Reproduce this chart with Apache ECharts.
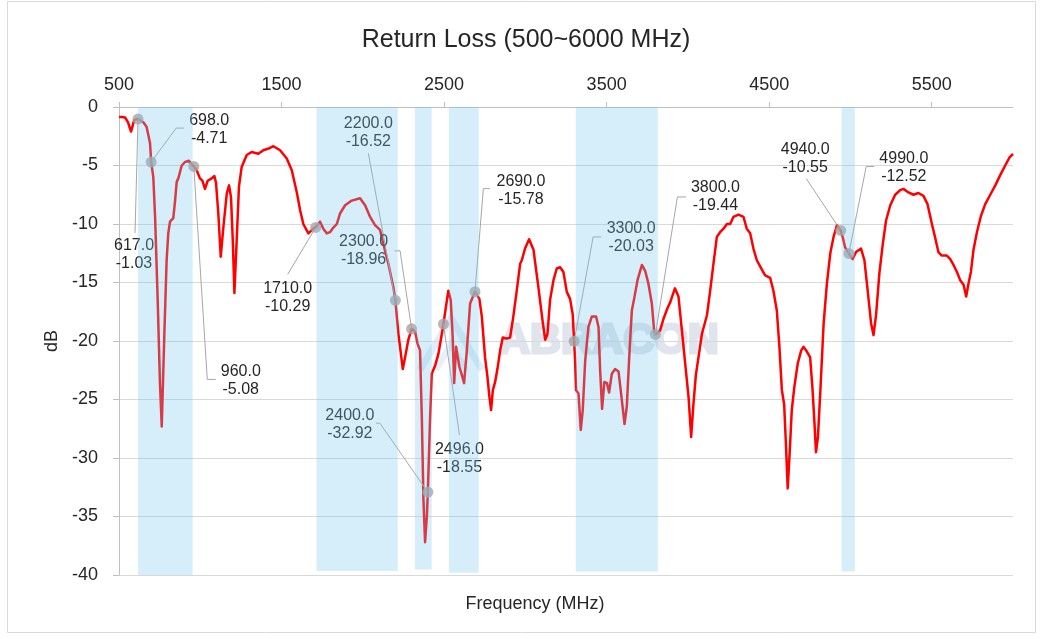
<!DOCTYPE html>
<html>
<head>
<meta charset="utf-8">
<script src="https://cdn.jsdelivr.net/npm/echarts@6/dist/echarts.min.js"></script>
<style>html,body{margin:0;padding:0;background:#fff;}#chart{width:1042px;height:639px;}</style>
</head>
<body>
<div id="chart"></div>
<script>
// ---- data ----
const freq = [500,520,537,555,574,594,617,650,670,691,698,711,722,738,752,763,779,793,803,814,834,845,855,865,886,906,931,943,960,978,998,1013,1029,1046,1070,1087,1097,1111,1126,1142,1163,1177,1189,1200,1210,1224,1238,1255,1286,1316,1357,1388,1420,1450,1491,1532,1563,1594,1614,1634,1665,1696,1710,1737,1757,1778,1798,1819,1840,1860,1891,1932,1983,2014,2045,2075,2106,2133,2157,2188,2200,2219,2246,2260,2280,2300,2322,2336,2352,2363,2373,2383,2394,2400,2414,2424,2445,2465,2480,2496,2510,2526,2541,2553,2562,2574,2582,2594,2609,2623,2640,2660,2690,2717,2732,2752,2767,2779,2789,2800,2814,2828,2845,2861,2885,2906,2926,2947,2968,2978,2998,3023,3050,3080,3105,3122,3136,3152,3173,3193,3214,3234,3255,3275,3291,3300,3306,3312,3327,3341,3353,3368,3388,3409,3435,3450,3460,3472,3486,3502,3515,3532,3552,3573,3589,3610,3624,3640,3655,3669,3690,3717,3737,3757,3778,3792,3800,3829,3850,3874,3891,3920,3942,3963,3983,4004,4020,4034,4049,4065,4086,4117,4137,4157,4178,4198,4219,4240,4260,4280,4311,4342,4362,4383,4403,4424,4451,4475,4506,4526,4547,4563,4578,4592,4602,4614,4627,4639,4655,4676,4697,4711,4732,4752,4767,4779,4788,4800,4815,4835,4855,4876,4896,4917,4940,4952,4967,4990,5013,5034,5065,5086,5106,5127,5142,5158,5178,5199,5219,5245,5275,5306,5326,5357,5388,5418,5449,5474,5501,5520,5541,5562,5593,5614,5634,5655,5675,5696,5712,5726,5741,5757,5778,5803,5829,5860,5891,5922,5952,5979,6000];
const returnLoss = [-0.85,-0.85,-0.9,-1.3,-2.1,-1.1,-1.03,-1.3,-1.7,-3.1,-4.71,-6.0,-9.4,-16.5,-23.6,-27.3,-19.4,-13.1,-10.8,-9.8,-9.5,-8.0,-6.4,-6.1,-5.0,-4.7,-4.6,-4.85,-5.08,-5.4,-6.1,-6.3,-7.0,-6.3,-6.1,-5.9,-6.5,-9.1,-12.8,-10.3,-7.4,-6.7,-7.7,-11.4,-15.9,-11.4,-6.8,-5.1,-4.1,-3.85,-4.0,-3.7,-3.55,-3.35,-3.7,-4.4,-5.4,-7.3,-8.8,-10.0,-10.8,-10.4,-10.29,-9.8,-10.4,-10.8,-10.7,-10.3,-10.0,-9.1,-8.4,-8.0,-7.8,-8.4,-9.4,-10.1,-10.5,-12.1,-13.4,-15.4,-16.52,-19.4,-22.4,-21.4,-19.9,-18.96,-19.2,-20.2,-20.8,-26.5,-33.6,-37.2,-35.0,-32.92,-26.5,-22.8,-22.1,-21.1,-19.9,-18.55,-17.2,-15.7,-16.5,-19.7,-23.6,-20.5,-20.4,-22.2,-22.9,-23.6,-20.8,-16.8,-15.78,-16.4,-17.9,-21.4,-23.1,-24.8,-25.9,-24.2,-23.5,-22.4,-20.8,-19.7,-19.8,-19.7,-17.9,-15.7,-13.4,-13.1,-12.1,-11.3,-12.2,-15.4,-18.2,-19.9,-19.4,-16.5,-14.8,-13.8,-13.7,-14.1,-15.8,-16.4,-17.7,-20.03,-21.7,-24.2,-24.5,-27.6,-25.9,-21.7,-18.8,-17.9,-17.9,-18.8,-22.5,-25.8,-23.5,-23.6,-24.4,-22.8,-22.4,-22.6,-24.5,-27.1,-25.6,-21.1,-17.4,-16.4,-14.8,-13.5,-14.0,-15.1,-16.8,-19.1,-19.44,-19.1,-18.1,-17.2,-16.7,-15.5,-16.2,-19.1,-21.9,-24.8,-28.2,-25.4,-22.9,-21.4,-19.4,-17.8,-15.7,-13.4,-11.1,-10.7,-10.4,-10.0,-10.0,-9.4,-9.2,-9.4,-10.4,-10.8,-12.1,-13.1,-13.8,-14.4,-14.6,-15.7,-17.4,-20.5,-24.2,-25.4,-28.5,-32.6,-29.3,-25.9,-23.9,-21.9,-20.8,-20.5,-20.9,-21.4,-24.2,-27.1,-29.5,-28.2,-24.2,-18.5,-15.1,-12.5,-11.1,-10.1,-10.55,-11.1,-12.0,-12.52,-13.0,-12.4,-12.1,-13.1,-15.7,-18.5,-19.5,-17.7,-14.2,-11.7,-9.7,-8.4,-7.5,-7.1,-7.0,-7.3,-7.5,-7.35,-7.6,-8.3,-10.0,-11.1,-12.4,-12.7,-12.7,-13.0,-13.5,-14.1,-14.8,-15.2,-16.2,-15.1,-14.1,-12.2,-10.7,-9.3,-8.3,-7.5,-6.7,-5.8,-5.0,-4.3,-4.0];

const markerFreq = [617, 698, 960, 1710, 2200, 2300, 2400, 2496, 2690, 3300, 3800, 4940, 4990];
const markerRL = [-1.03, -4.71, -5.08, -10.29, -16.52, -18.96, -32.92, -18.55, -15.78, -20.03, -19.44, -10.55, -12.52];

const bandStart = [617, 1715, 2320, 2530, 3310, 4945];
const bandEnd = [953, 2215, 2424, 2713, 3815, 5027];
const bandBottom = [-40, -39.66, -39.54, -39.8, -39.7, -39.7];

const xTicks = [500, 1500, 2500, 3500, 4500, 5500];
const yMin = -40, yMax = 0, yStep = 5;

// ---- label layout (pixel offsets from each marker) ----
const labelLayout = [
  {t: [-4, 136],  l: [[-3, 114]]},
  {t: [58, -33],  l: [[25, -34], [33, -34]]},
  {t: [47, 214],  l: [[13.5, 213], [22, 213]]},
  {t: [-28, 70],  l: [[-28, 47]]},
  {t: [-27, -168], l: [[-27, -147]]},
  {t: [-48, -78], l: [[-11.5, -78], [-17, -78]]},
  {t: [-78, -68], l: [[-48, -69], [-52, -69]]},
  {t: [16, 135],  l: [[16, 111]]},
  {t: [46, -101], l: [[8.4, -103], [15, -103]]},
  {t: [57, -104], l: [[19, -104.4], [27, -104.4]]},
  {t: [60, -138], l: [[22, -137.5], [30.6, -137.5]]},
  {t: [-35.5, -72], l: [[-34.5, -52]]},
  {t: [55, -86],  l: [[17.4, -87], [25.4, -87]]}
];

const FONT = '"Liberation Sans", Arial, sans-serif';
const curveData = freq.map((f, i) => [f, returnLoss[i]]);
const markerData = markerFreq.map((f, i) => [f, markerRL[i], i]);
const bandData = bandStart.map((s, i) => [s, bandEnd[i], bandBottom[i]]);

const chart = echarts.init(document.getElementById('chart'), null, {renderer: 'canvas'});
chart.setOption({
  animation: false,
  backgroundColor: '#ffffff',
  grid: {left: 119, right: 29, top: 107, bottom: 64, containLabel: false},
  xAxis: {
    type: 'value', position: 'top', min: 500, max: 6000,
    axisLine: {show: true, onZero: false, lineStyle: {color: '#bfbfbf', width: 1}},
    axisTick: {show: true, inside: false, length: 5, customValues: xTicks, lineStyle: {color: '#bfbfbf'}},
    axisLabel: {customValues: xTicks, margin: 13, fontSize: 18, color: '#262626', fontFamily: FONT,
                formatter: v => String(v)},
    splitLine: {show: false}
  },
  yAxis: {
    type: 'value', min: yMin, max: yMax, interval: yStep,
    name: 'dB', nameLocation: 'middle', nameGap: 49,
    nameTextStyle: {fontSize: 18, color: '#262626', fontFamily: FONT},
    axisLine: {show: true, onZero: false, lineStyle: {color: '#bfbfbf', width: 1}},
    axisTick: {show: true, inside: false, length: 6, lineStyle: {color: '#bfbfbf'}},
    axisLabel: {margin: 21, fontSize: 18, color: '#262626', fontFamily: FONT, formatter: v => String(v)},
    splitLine: {show: true, lineStyle: {color: '#d9d9d9', width: 1}}
  },
  graphic: [
    {type: 'rect', z: -10, shape: {x: 7.5, y: 1.5, width: 1028, height: 631}, style: {fill: 'none', stroke: '#d9d9d9', lineWidth: 1}},
    {type: 'text', z: 0, x: 526, y: 40, style: {text: 'Return Loss (500~6000 MHz)', fontSize: 25, fontFamily: FONT, fill: '#262626', textAlign: 'center', textVerticalAlign: 'middle'}},
    {type: 'text', z: 0, x: 535, y: 604, style: {text: 'Frequency (MHz)', fontSize: 18, fontFamily: FONT, fill: '#262626', textAlign: 'center', textVerticalAlign: 'middle'}},
    {type: 'polyline', z: 0, shape: {points: [[420, 370], [451, 318], [482, 370]]}, style: {fill: 'none', stroke: 'rgba(170,205,240,0.35)', lineWidth: 7}},
    {type: 'polyline', z: 0, shape: {points: [[436, 370], [451, 344], [466, 370]]}, style: {fill: 'none', stroke: 'rgba(170,205,240,0.30)', lineWidth: 6}},
    {type: 'text', z: 0, x: 499, y: 341, style: {text: 'ABRACON', fontSize: 43, fontWeight: 'bold', fontFamily: FONT, fill: '#e0e4ed', stroke: '#e0e4ed', lineWidth: 3, textAlign: 'left', textVerticalAlign: 'middle'}}
  ],
  series: [
    {
      type: 'line', z: 2, data: curveData, showSymbol: false, smooth: false,
      lineStyle: {color: '#ff0000', width: 2.5, join: 'round'}, silent: true
    },
    {
      type: 'custom', z: 3, data: markerData, silent: true,
      encode: {x: 0, y: 1},
      renderItem: function (params, api) {
        const i = api.value(2);
        const p = api.coord([api.value(0), api.value(1)]);
        const lay = labelLayout[i];
        const pts = [[p[0], p[1]]].concat(lay.l.map(o => [p[0] + o[0], p[1] + o[1]]));
        const txt = Number(api.value(0)).toFixed(1) + '\n' + Number(api.value(1)).toFixed(2);
        return {
          type: 'group',
          children: [
            {type: 'polyline', shape: {points: pts}, style: {fill: 'none', stroke: '#a6a6a6', lineWidth: 1}},
            {type: 'text', x: p[0] + lay.t[0], y: p[1] + lay.t[1],
             style: {text: txt, fontSize: 16, fontFamily: FONT, fill: '#262626', textAlign: 'center', textVerticalAlign: 'middle', lineHeight: 18}}
          ]
        };
      }
    },
    {
      type: 'scatter', z: 4, data: markerData, symbol: 'circle', symbolSize: 11,
      itemStyle: {color: '#a5a5a5'}, silent: true
    },
    {
      type: 'custom', z: 10, data: bandData, silent: true,
      encode: {x: [0, 1], y: 2},
      renderItem: function (params, api) {
        const a = api.coord([api.value(0), 0]);
        const b = api.coord([api.value(1), api.value(2)]);
        return {type: 'rect', shape: {x: a[0], y: a[1], width: b[0] - a[0], height: b[1] - a[1]},
                style: {fill: 'rgba(120,200,236,0.30)'}};
      }
    }
  ]
});
</script>
</body>
</html>
